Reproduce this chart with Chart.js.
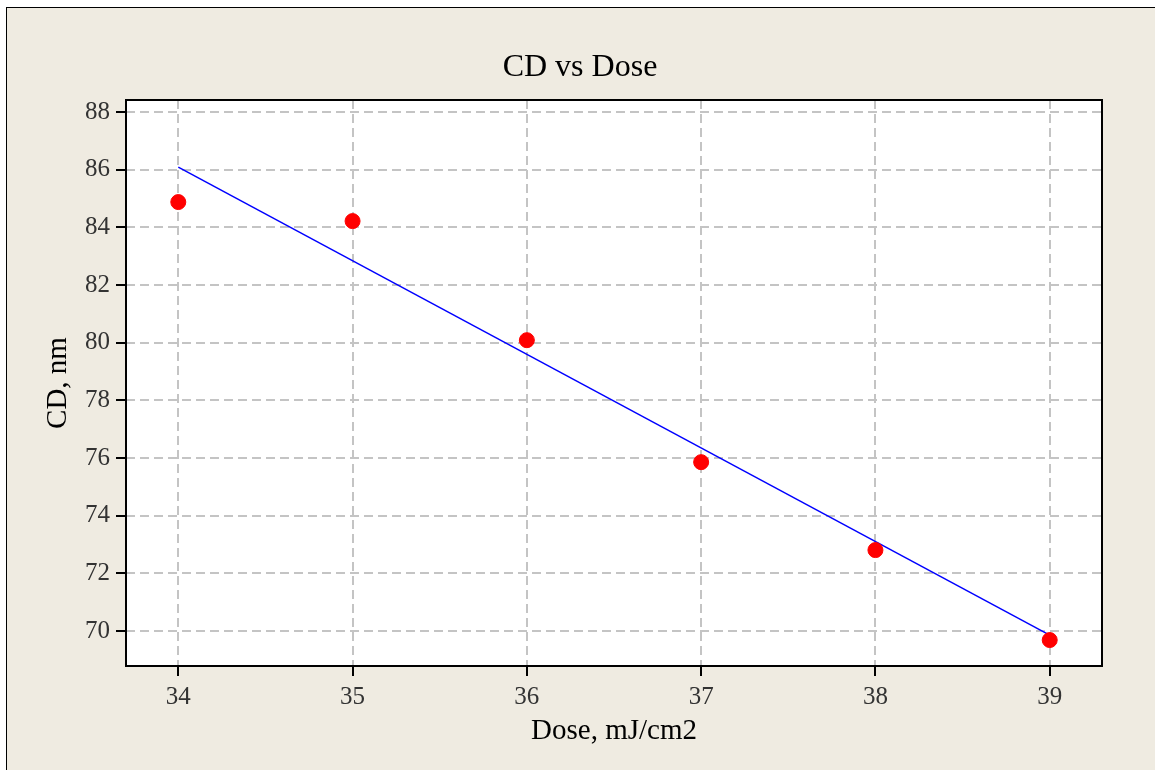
<!DOCTYPE html>
<html>
<head>
<meta charset="utf-8">
<title>CD vs Dose</title>
<script src="https://cdn.jsdelivr.net/npm/chart.js@4"></script>
<style>
    body { margin: 0; background: #ffffff; }
    #frame {
        position: absolute; left: 6px; top: 7px; width: 1200px; height: 800px;
        border-top: 1px solid #000; border-left: 1px solid #000;
        background: #efebe1;
    }
    #wrap { position: absolute; left: 0; top: 0; width: 1155px; height: 770px; }
</style>
</head>
<body>
<div id="frame"></div>
<div id="wrap"><canvas id="cdChart" width="1155" height="770"></canvas></div>
<script>
// Measured CD for each dose
const doses = [34, 35, 36, 37, 38, 39];
const cdValues = [84.88, 84.22, 80.09, 75.86, 72.81, 69.69];

// Fitted line end points
const fitDoses = [34, 39];
const fitValues = [86.09, 69.86];

const yTicks = [70, 72, 74, 76, 78, 80, 82, 84, 86, 88];
const xTicks = [34, 35, 36, 37, 38, 39];

const serif = "'Liberation Serif', 'DejaVu Serif', serif";

// White plot area with black frame, title centred on the whole page
const plotFrame = {
    id: "plotFrame",
    afterLayout(chart) {
        const t = chart.titleBlock;
        if (t) { t.left = 0; t.right = chart.width + 5; }
    },
    beforeDraw(chart) {
        const { ctx, chartArea: a } = chart;
        ctx.save();
        ctx.fillStyle = "#ffffff";
        ctx.fillRect(a.left, a.top, a.right - a.left, a.bottom - a.top);
        ctx.restore();
    },
    afterDatasetsDraw(chart) {
        const { ctx, chartArea: a } = chart;
        ctx.save();
        ctx.strokeStyle = "#000000";
        ctx.lineWidth = 2;
        ctx.strokeRect(a.left, a.top, a.right - a.left, a.bottom - a.top);
        ctx.restore();
    }
};

const ctx = document.getElementById("cdChart").getContext("2d");
new Chart(ctx, {
    type: "scatter",
    data: {
        datasets: [
            {
                label: "Fit",
                data: fitDoses.map((d, i) => ({ x: d, y: fitValues[i] })),
                showLine: true,
                borderColor: "#0000ff",
                borderWidth: 1.5,
                pointRadius: 0,
                order: 2
            },
            {
                label: "CD",
                data: doses.map((d, i) => ({ x: d, y: cdValues[i] })),
                backgroundColor: "#ff0000",
                borderColor: "#ff0000",
                pointRadius: 7.5,
                order: 1
            }
        ]
    },
    plugins: [plotFrame],
    options: {
        responsive: false,
        animation: false,
        layout: { padding: { left: 0, right: 53, top: 0, bottom: 0 } },
        plugins: {
            legend: { display: false },
            tooltip: { enabled: false },
            title: {
                display: true,
                text: "CD vs Dose",
                color: "#000000",
                font: { family: serif, size: 32, weight: "normal" },
                padding: { top: 48, bottom: 13.6 }
            }
        },
        scales: {
            x: {
                type: "linear",
                min: 33.7,
                max: 39.3,
                afterBuildTicks: (scale) => { scale.ticks = xTicks.map(v => ({ value: v })); },
                afterFit: (scale) => { scale.height = 104; },
                ticks: {
                    color: "#333333",
                    font: { family: serif, size: 25 },
                    padding: 6
                },
                grid: {
                    color: "#c4c4c4",
                    lineWidth: 2,
                    tickLength: 10,
                    tickColor: "#000000",
                    tickWidth: 2
                },
                border: { display: false, dash: [9, 5] },
                title: {
                    display: true,
                    text: "Dose, mJ/cm2",
                    color: "#000000",
                    font: { family: serif, size: 29 },
                    padding: { top: 0, bottom: 21 }
                }
            },
            y: {
                type: "linear",
                min: 68.79,
                max: 88.42,
                afterBuildTicks: (scale) => { scale.ticks = yTicks.map(v => ({ value: v })); },
                afterFit: (scale) => { scale.width = 126; },
                ticks: {
                    color: "#333333",
                    font: { family: serif, size: 25 },
                    padding: 6
                },
                grid: {
                    color: "#c4c4c4",
                    lineWidth: 2,
                    tickLength: 10,
                    tickColor: "#000000",
                    tickWidth: 2
                },
                border: { display: false, dash: [9, 5] },
                title: {
                    display: true,
                    text: "CD, nm",
                    color: "#000000",
                    font: { family: serif, size: 29 },
                    padding: { top: 41, bottom: 0 }
                }
            }
        }
    }
});
</script>
</body>
</html>
